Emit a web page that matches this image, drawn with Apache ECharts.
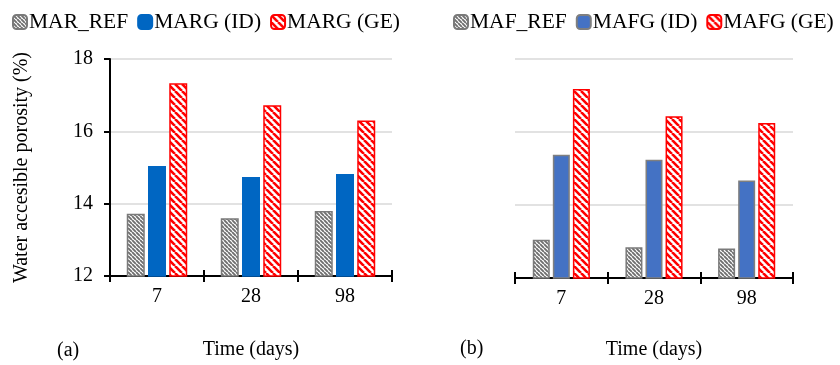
<!DOCTYPE html>
<html><head><meta charset="utf-8">
<script src="https://cdn.jsdelivr.net/npm/echarts@6/dist/echarts.min.js"></script>
<style>html,body{margin:0;padding:0;background:#fff}#c{width:840px;height:365px}</style>
</head><body><div id="c"></div>
<script>
const categories = ['7', '28', '98'];
const seriesNamesA = ['MAR_REF', 'MARG (ID)', 'MARG (GE)'];
const seriesNamesB = ['MAF_REF', 'MAFG (ID)', 'MAFG (GE)'];
const marRef = [13.72, 13.6, 13.8];
const margID = [15.04, 14.74, 14.82];
const margGE = [17.33, 16.72, 16.3];
const mafRef = [13.05, 12.84, 12.81];
const mafgID = [15.38, 15.24, 14.67];
const mafgGE = [17.18, 16.43, 16.25];
const yTicks = [12, 14, 16, 18];

const FONT = 'Liberation Serif';

function stripes(color, period, lw) {
  const c = document.createElement('canvas');
  c.width = c.height = period;
  const ctx = c.getContext('2d');
  ctx.fillStyle = '#fff';
  ctx.fillRect(0, 0, period, period);
  ctx.strokeStyle = color;
  ctx.lineWidth = lw;
  ctx.beginPath();
  for (let k = -1; k <= 1; k++) {
    ctx.moveTo(k * period, 0);
    ctx.lineTo(k * period + period, period);
  }
  ctx.stroke();
  return c;
}
const greyPat = { image: stripes('#6f6f6f', 4, 1.9), repeat: 'repeat' };
const redPat = { image: stripes('#ff0000', 7, 2.6), repeat: 'repeat' };

const chart = echarts.init(document.getElementById('c'), null, { renderer: 'canvas' });

function xAxes(gi, name, gap) {
  return [{
    type: 'category', gridIndex: gi, data: categories,
    axisLine: { lineStyle: { color: '#000', width: 2 } },
    axisTick: { show: true, length: 6, lineStyle: { color: '#000', width: 2 } },
    axisLabel: { color: '#000', fontFamily: FONT, fontSize: 20, margin: 11 },
    name: name, nameLocation: 'middle', nameGap: gap,
    nameTextStyle: { color: '#000', fontFamily: FONT, fontSize: 20 }
  }, {
    type: 'category', gridIndex: gi, data: categories, position: 'bottom',
    axisLine: { show: false },
    axisTick: { show: true, inside: true, length: 6, lineStyle: { color: '#000', width: 2 } },
    axisLabel: { show: false }
  }];
}

const yBase = {
  type: 'value', min: yTicks[0], max: yTicks[yTicks.length - 1], interval: 2,
  splitLine: { show: true, lineStyle: { color: '#d9d9d9', width: 1.5 } }
};

function bar(name, data, xi, yi, color, border, bw) {
  return {
    name, type: 'bar', data, xAxisIndex: xi, yAxisIndex: yi, barWidth: bw, barGap: '18%',
    itemStyle: { color, borderColor: border, borderWidth: 1.5 }
  };
}

const legendText = { color: '#000', fontFamily: FONT, fontSize: 21.5, padding: [0, 0, 0, -3] };

chart.setOption({
  animation: false,
  backgroundColor: '#fff',
  textStyle: { fontFamily: FONT },
  legend: [{
    data: seriesNamesA, left: 7, top: 6, itemWidth: 14, itemHeight: 14, itemGap: 9,
    textStyle: legendText
  }, {
    data: seriesNamesB, left: 448, top: 6, itemWidth: 14, itemHeight: 14, itemGap: 9,
    textStyle: legendText
  }],
  grid: [
    { left: 110, right: 448, top: 59, bottom: 88 },
    { left: 515, right: 47, top: 59, bottom: 87 }
  ],
  xAxis: [...xAxes(0, 'Time (days)', 64), ...xAxes(1, 'Time (days)', 62)],
  yAxis: [
    Object.assign({}, yBase, {
      gridIndex: 0,
      axisLine: { show: true, lineStyle: { color: '#000', width: 2 } },
      axisTick: { show: true, length: 6, lineStyle: { color: '#000', width: 2 } },
      axisLabel: { color: '#000', fontFamily: FONT, fontSize: 20, margin: 17 },
      name: 'Water accesible porosity (%)', nameLocation: 'middle', nameGap: 78,
      nameTextStyle: { color: '#000', fontFamily: FONT, fontSize: 20 }
    }),
    Object.assign({}, yBase, {
      gridIndex: 1,
      axisLine: { show: false }, axisTick: { show: false }, axisLabel: { show: false }
    })
  ],
  graphic: [
    { type: 'text', left: 57, top: 341, style: { text: '(a)', font: '20px "Liberation Serif"', fill: '#000' } },
    { type: 'text', left: 460, top: 339, style: { text: '(b)', font: '20px "Liberation Serif"', fill: '#000' } }
  ],
  series: [
    bar(seriesNamesA[0], marRef, 0, 0, greyPat, '#7a7a7a', 18),
    bar(seriesNamesA[1], margID, 0, 0, '#0066c2', '#0066c2', 18),
    bar(seriesNamesA[2], margGE, 0, 0, redPat, '#ff0000', 18),
    bar(seriesNamesB[0], mafRef, 2, 1, greyPat, '#7a7a7a', 17),
    bar(seriesNamesB[1], mafgID, 2, 1, '#4472c4', '#7f7f7f', 17),
    bar(seriesNamesB[2], mafgGE, 2, 1, redPat, '#ff0000', 17)
  ]
});
</script>
</body></html>
